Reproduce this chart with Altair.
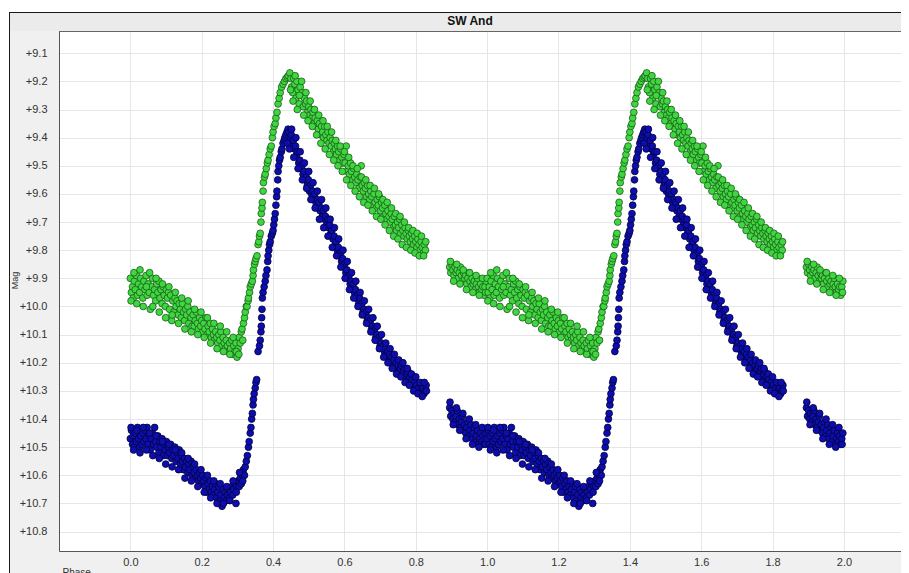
import altair as alt
import pandas as pd

TITLE = "SW And"
X_TICKS = [0.0, 0.2, 0.4, 0.6, 0.8, 1.0, 1.2, 1.4, 1.6, 1.8, 2.0]
Y_TICKS = [9.1, 9.2, 9.3, 9.4, 9.5, 9.6, 9.7, 9.8, 9.9, 10.0,
           10.1, 10.2, 10.3, 10.4, 10.5, 10.6, 10.7, 10.8]

# one cycle of (phase, magnitude); plotted at phase and phase+1
GREEN = [
    (0.000, 9.90), (0.003, 9.95), (0.006, 9.93), (0.008, 9.97), (0.011, 9.91), (0.014, 9.94),
    (0.017, 9.89), (0.020, 9.96), (0.023, 9.92), (0.026, 9.95), (0.029, 9.90), (0.032, 9.93),
    (0.035, 9.97), (0.038, 9.91), (0.041, 9.94), (0.044, 9.89), (0.047, 9.96), (0.050, 9.92),
    (0.053, 9.95), (0.056, 10.01), (0.059, 9.93), (0.062, 9.90), (0.065, 9.96), (0.068, 9.94),
    (0.071, 9.98), (0.074, 9.92), (0.077, 9.95), (0.080, 9.91), (0.083, 9.97), (0.086, 9.94),
    (0.089, 9.99), (0.092, 9.93), (0.095, 9.96), (0.098, 10.00), (0.101, 9.94), (0.104, 9.97),
    (0.107, 9.95), (0.110, 10.01), (0.113, 9.96), (0.116, 10.05), (0.119, 9.98), (0.122, 10.02),
    (0.125, 9.97), (0.128, 10.00), (0.131, 9.98), (0.134, 10.03), (0.137, 9.99), (0.140, 10.01),
    (0.143, 10.04), (0.146, 9.99), (0.149, 10.02), (0.152, 10.05), (0.155, 10.01), (0.158, 10.03),
    (0.161, 10.00), (0.164, 10.06), (0.167, 10.02), (0.170, 10.04), (0.173, 10.07), (0.176, 10.03),
    (0.179, 10.07), (0.182, 10.05), (0.185, 10.02), (0.188, 10.06), (0.191, 10.08), (0.194, 10.04),
    (0.197, 10.07), (0.200, 10.05), (0.203, 10.09), (0.206, 10.06), (0.209, 10.08), (0.212, 10.04),
    (0.215, 10.10), (0.218, 10.07), (0.221, 10.09), (0.224, 10.06), (0.227, 10.11), (0.230, 10.08),
    (0.233, 10.10), (0.236, 10.12), (0.239, 10.09), (0.242, 10.11), (0.245, 10.13), (0.248, 10.10),
    (0.251, 10.12), (0.254, 10.09), (0.257, 10.14), (0.260, 10.11), (0.263, 10.13), (0.266, 10.15),
    (0.269, 10.12), (0.272, 10.14), (0.275, 10.16), (0.278, 10.13), (0.281, 10.15), (0.284, 10.12),
    (0.287, 10.17), (0.290, 10.14), (0.293, 10.16), (0.296, 10.13), (0.299, 10.18), (0.302, 10.15),
    (0.305, 10.11), (0.308, 10.13), (0.311, 10.09), (0.313, 10.08), (0.315, 10.12), (0.317, 10.06),
    (0.320, 10.04), (0.322, 10.02), (0.325, 10.00), (0.327, 10.00), (0.330, 9.98), (0.331, 9.97),
    (0.334, 9.95), (0.336, 9.93), (0.339, 9.92), (0.342, 9.91), (0.344, 9.89), (0.345, 9.87),
    (0.348, 9.85), (0.350, 9.84), (0.352, 9.83), (0.355, 9.82), (0.358, 9.78), (0.360, 9.77),
    (0.362, 9.75), (0.364, 9.74), (0.366, 9.70), (0.367, 9.67), (0.369, 9.65), (0.370, 9.63),
    (0.372, 9.59), (0.373, 9.56), (0.376, 9.54), (0.378, 9.53), (0.381, 9.51), (0.384, 9.49),
    (0.386, 9.48), (0.389, 9.46), (0.392, 9.44), (0.395, 9.43), (0.398, 9.40), (0.400, 9.38),
    (0.403, 9.36), (0.406, 9.35), (0.408, 9.33), (0.411, 9.31), (0.414, 9.28), (0.417, 9.26),
    (0.420, 9.24), (0.424, 9.22), (0.428, 9.21), (0.432, 9.20), (0.436, 9.19), (0.440, 9.185),
    (0.443, 9.18), (0.447, 9.17), (0.450, 9.19), (0.452, 9.22), (0.455, 9.24), (0.458, 9.19),
    (0.461, 9.21), (0.464, 9.26), (0.467, 9.20), (0.470, 9.23), (0.473, 9.28), (0.476, 9.22),
    (0.479, 9.25), (0.482, 9.24), (0.485, 9.29), (0.488, 9.26), (0.491, 9.28), (0.494, 9.27),
    (0.497, 9.31), (0.500, 9.29), (0.503, 9.32), (0.506, 9.30), (0.509, 9.33), (0.512, 9.31),
    (0.515, 9.35), (0.518, 9.33), (0.521, 9.36), (0.524, 9.34), (0.527, 9.37), (0.530, 9.35),
    (0.533, 9.39), (0.536, 9.36), (0.539, 9.38), (0.542, 9.40), (0.545, 9.36), (0.548, 9.39),
    (0.551, 9.41), (0.554, 9.38), (0.557, 9.42), (0.560, 9.40), (0.563, 9.43), (0.566, 9.41),
    (0.569, 9.45), (0.572, 9.42), (0.575, 9.44), (0.578, 9.46), (0.581, 9.43), (0.584, 9.45),
    (0.587, 9.48), (0.590, 9.44), (0.593, 9.47), (0.596, 9.49), (0.599, 9.46), (0.602, 9.49),
    (0.605, 9.43), (0.608, 9.52), (0.611, 9.50), (0.614, 9.53), (0.617, 9.49), (0.620, 9.52),
    (0.623, 9.55), (0.626, 9.51), (0.629, 9.54), (0.632, 9.56), (0.635, 9.53), (0.638, 9.55),
    (0.641, 9.58), (0.644, 9.54), (0.647, 9.50), (0.650, 9.57), (0.653, 9.59), (0.656, 9.56),
    (0.659, 9.58), (0.662, 9.61), (0.665, 9.57), (0.668, 9.60), (0.671, 9.62), (0.674, 9.59),
    (0.677, 9.61), (0.680, 9.64), (0.683, 9.60), (0.686, 9.63), (0.689, 9.65), (0.692, 9.62),
    (0.695, 9.64), (0.698, 9.61), (0.701, 9.66), (0.704, 9.63), (0.707, 9.65), (0.710, 9.68),
    (0.713, 9.64), (0.716, 9.67), (0.719, 9.69), (0.722, 9.66), (0.725, 9.68), (0.728, 9.70),
    (0.731, 9.67), (0.734, 9.69), (0.737, 9.72), (0.740, 9.68), (0.743, 9.71), (0.746, 9.73),
    (0.749, 9.70), (0.752, 9.72), (0.755, 9.69), (0.758, 9.74), (0.761, 9.71), (0.764, 9.73),
    (0.767, 9.75), (0.770, 9.72), (0.773, 9.74), (0.776, 9.76), (0.779, 9.73), (0.782, 9.75),
    (0.785, 9.77), (0.788, 9.74), (0.791, 9.76), (0.794, 9.78), (0.797, 9.75), (0.800, 9.77),
    (0.803, 9.79), (0.806, 9.76), (0.809, 9.78), (0.812, 9.80), (0.815, 9.77), (0.818, 9.79),
    (0.821, 9.81), (0.824, 9.78), (0.827, 9.80),
    (0.895, 9.86), (0.898, 9.88), (0.901, 9.85), (0.904, 9.87), (0.907, 9.89), (0.910, 9.86),
    (0.913, 9.88), (0.916, 9.87), (0.919, 9.90), (0.922, 9.88), (0.925, 9.86), (0.928, 9.89),
    (0.931, 9.91), (0.934, 9.88), (0.937, 9.90), (0.940, 9.89), (0.943, 9.92), (0.946, 9.90),
    (0.949, 9.88), (0.952, 9.91), (0.955, 9.93), (0.958, 9.90), (0.961, 9.92), (0.964, 9.91),
    (0.967, 9.94), (0.970, 9.92), (0.973, 9.90), (0.976, 9.93), (0.979, 9.95), (0.982, 9.92),
    (0.985, 9.94), (0.988, 9.93), (0.991, 9.96), (0.994, 9.93), (0.997, 9.91),
]

# wider-scattered green observations
GREEN_SCATTER = [
    (0.002, 9.98), (0.010, 9.88), (0.018, 9.99), (0.027, 9.87), (0.036, 10.00), (0.045, 9.93),
    (0.054, 9.88), (0.063, 10.00), (0.072, 9.90), (0.081, 10.02), (0.090, 9.92), (0.099, 10.04),
    (0.108, 9.93), (0.117, 10.03), (0.126, 9.95), (0.135, 10.06), (0.144, 9.97), (0.153, 10.08),
    (0.162, 9.98), (0.171, 10.09), (0.180, 10.01), (0.189, 10.10), (0.198, 10.02), (0.207, 10.11),
    (0.216, 10.04), (0.225, 10.13), (0.234, 10.06), (0.243, 10.15), (0.252, 10.07), (0.261, 10.16),
    (0.270, 10.09), (0.279, 10.17), (0.288, 10.11), (0.297, 10.16), (0.304, 10.17),
    (0.449, 9.23), (0.456, 9.27), (0.462, 9.18), (0.468, 9.30), (0.474, 9.25), (0.480, 9.20),
    (0.486, 9.32), (0.492, 9.24), (0.498, 9.34), (0.504, 9.27), (0.510, 9.36), (0.516, 9.30),
    (0.522, 9.39), (0.528, 9.32), (0.534, 9.42), (0.540, 9.34), (0.546, 9.44), (0.552, 9.36),
    (0.558, 9.46), (0.564, 9.38), (0.570, 9.48), (0.576, 9.41), (0.582, 9.50), (0.588, 9.43),
    (0.594, 9.52), (0.600, 9.45), (0.606, 9.55), (0.612, 9.47), (0.618, 9.57), (0.624, 9.50),
    (0.630, 9.59), (0.636, 9.51), (0.642, 9.61), (0.648, 9.54), (0.654, 9.63), (0.660, 9.55),
    (0.666, 9.64), (0.672, 9.57), (0.678, 9.66), (0.684, 9.58), (0.690, 9.68), (0.696, 9.60),
    (0.702, 9.69), (0.708, 9.62), (0.714, 9.71), (0.720, 9.63), (0.726, 9.73), (0.732, 9.65),
    (0.738, 9.75), (0.744, 9.67), (0.750, 9.76), (0.756, 9.68), (0.762, 9.78), (0.768, 9.70),
    (0.774, 9.79), (0.780, 9.72), (0.786, 9.80), (0.792, 9.73), (0.798, 9.81), (0.804, 9.74),
    (0.810, 9.82), (0.816, 9.75), (0.822, 9.82), (0.828, 9.77),
    (0.897, 9.84), (0.906, 9.91), (0.915, 9.85), (0.924, 9.92), (0.933, 9.87), (0.942, 9.94),
    (0.951, 9.88), (0.960, 9.95), (0.969, 9.89), (0.978, 9.96), (0.987, 9.90), (0.996, 9.95),
]

BLUE = [
    (0.000, 10.47), (0.003, 10.44), (0.006, 10.49), (0.008, 10.46), (0.011, 10.50), (0.014, 10.45),
    (0.017, 10.48), (0.020, 10.43), (0.023, 10.47), (0.026, 10.50), (0.029, 10.46), (0.032, 10.49),
    (0.035, 10.45), (0.038, 10.48), (0.041, 10.44), (0.044, 10.47), (0.047, 10.43), (0.050, 10.49),
    (0.053, 10.46), (0.056, 10.51), (0.059, 10.47), (0.062, 10.45), (0.065, 10.49), (0.068, 10.43),
    (0.071, 10.48), (0.074, 10.50), (0.077, 10.46), (0.080, 10.52), (0.083, 10.48), (0.086, 10.50),
    (0.089, 10.47), (0.092, 10.53), (0.095, 10.49), (0.098, 10.51), (0.101, 10.48), (0.104, 10.53),
    (0.107, 10.50), (0.110, 10.52), (0.113, 10.49), (0.116, 10.54), (0.119, 10.51), (0.122, 10.53),
    (0.125, 10.50), (0.128, 10.55), (0.131, 10.52), (0.134, 10.54), (0.137, 10.51), (0.140, 10.56),
    (0.143, 10.53), (0.146, 10.55), (0.149, 10.58), (0.152, 10.54), (0.155, 10.57), (0.158, 10.55),
    (0.161, 10.59), (0.164, 10.56), (0.167, 10.58), (0.170, 10.55), (0.173, 10.60), (0.176, 10.57),
    (0.179, 10.59), (0.182, 10.61), (0.185, 10.58), (0.188, 10.60), (0.191, 10.62), (0.194, 10.59),
    (0.197, 10.61), (0.200, 10.63), (0.203, 10.60), (0.206, 10.62), (0.209, 10.64), (0.212, 10.61),
    (0.215, 10.66), (0.218, 10.63), (0.221, 10.65), (0.224, 10.62), (0.227, 10.66), (0.230, 10.64),
    (0.233, 10.67), (0.236, 10.65), (0.239, 10.63), (0.242, 10.68), (0.245, 10.66), (0.248, 10.64),
    (0.251, 10.69), (0.254, 10.67), (0.257, 10.71), (0.260, 10.65), (0.263, 10.68), (0.266, 10.66),
    (0.269, 10.69), (0.272, 10.67), (0.275, 10.65), (0.278, 10.68), (0.281, 10.66), (0.284, 10.64),
    (0.287, 10.67), (0.290, 10.65), (0.293, 10.63), (0.296, 10.70), (0.299, 10.64), (0.302, 10.62),
    (0.305, 10.64), (0.308, 10.61), (0.311, 10.63), (0.314, 10.60), (0.317, 10.58), (0.320, 10.60),
    (0.322, 10.57), (0.325, 10.55), (0.328, 10.53), (0.331, 10.50), (0.333, 10.48), (0.336, 10.45),
    (0.338, 10.43), (0.340, 10.40), (0.342, 10.38), (0.344, 10.35), (0.345, 10.33), (0.347, 10.31),
    (0.350, 10.29), (0.352, 10.27), (0.354, 10.26),
    (0.358, 10.16), (0.362, 10.14), (0.364, 10.12), (0.366, 10.09), (0.367, 10.07), (0.368, 10.04),
    (0.369, 10.01), (0.370, 9.97), (0.372, 9.95), (0.375, 9.93), (0.378, 9.91), (0.380, 9.89),
    (0.383, 9.87), (0.385, 9.84), (0.386, 9.82), (0.388, 9.80), (0.390, 9.78), (0.392, 9.77),
    (0.395, 9.75), (0.398, 9.74), (0.400, 9.73), (0.402, 9.71), (0.404, 9.69), (0.406, 9.67),
    (0.408, 9.64), (0.410, 9.61), (0.411, 9.59), (0.413, 9.55), (0.414, 9.52), (0.416, 9.50),
    (0.418, 9.48), (0.420, 9.47), (0.423, 9.45), (0.425, 9.44), (0.428, 9.42), (0.431, 9.41),
    (0.433, 9.40), (0.436, 9.39), (0.439, 9.38), (0.442, 9.37),
    (0.445, 9.38), (0.448, 9.40), (0.451, 9.39), (0.454, 9.42), (0.457, 9.41), (0.460, 9.44),
    (0.463, 9.43), (0.466, 9.46), (0.469, 9.45), (0.472, 9.49), (0.475, 9.48), (0.478, 9.51),
    (0.481, 9.50), (0.484, 9.53), (0.487, 9.52), (0.490, 9.55), (0.493, 9.54), (0.496, 9.57),
    (0.499, 9.55), (0.502, 9.59), (0.505, 9.57), (0.508, 9.60), (0.511, 9.59), (0.514, 9.62),
    (0.517, 9.60), (0.520, 9.63), (0.523, 9.62), (0.526, 9.65), (0.529, 9.63), (0.532, 9.66),
    (0.535, 9.65), (0.538, 9.68), (0.541, 9.66), (0.544, 9.69), (0.547, 9.68), (0.550, 9.71),
    (0.553, 9.69), (0.556, 9.72), (0.559, 9.71), (0.562, 9.74), (0.565, 9.73), (0.568, 9.76),
    (0.571, 9.75), (0.574, 9.78), (0.577, 9.77), (0.580, 9.80), (0.583, 9.79), (0.586, 9.82),
    (0.589, 9.81), (0.592, 9.84), (0.595, 9.83), (0.598, 9.86), (0.601, 9.85), (0.604, 9.88),
    (0.607, 9.87), (0.610, 9.90), (0.613, 9.89), (0.616, 9.92), (0.619, 9.91), (0.622, 9.94),
    (0.625, 9.92), (0.628, 9.95), (0.631, 9.94), (0.634, 9.97), (0.637, 9.96), (0.640, 9.99),
    (0.643, 9.97), (0.646, 10.00), (0.649, 9.99), (0.652, 10.02), (0.655, 10.01), (0.658, 10.03),
    (0.661, 10.02), (0.664, 10.05), (0.667, 10.04), (0.670, 10.06), (0.673, 10.05), (0.676, 10.08),
    (0.679, 10.07), (0.682, 10.09), (0.685, 10.08), (0.688, 10.11), (0.691, 10.10), (0.694, 10.12),
    (0.697, 10.11), (0.700, 10.14), (0.703, 10.13), (0.706, 10.15), (0.709, 10.14), (0.712, 10.16),
    (0.715, 10.15), (0.718, 10.17), (0.721, 10.16), (0.724, 10.18), (0.727, 10.17), (0.730, 10.19),
    (0.733, 10.18), (0.736, 10.20), (0.739, 10.19), (0.742, 10.21), (0.745, 10.20), (0.748, 10.22),
    (0.751, 10.21), (0.754, 10.23), (0.757, 10.22), (0.760, 10.21), (0.763, 10.24), (0.766, 10.23),
    (0.769, 10.22), (0.772, 10.25), (0.775, 10.24), (0.778, 10.23), (0.781, 10.26), (0.784, 10.25),
    (0.787, 10.27), (0.790, 10.26), (0.793, 10.28), (0.796, 10.27), (0.799, 10.29), (0.802, 10.28),
    (0.805, 10.30), (0.808, 10.29), (0.811, 10.31), (0.814, 10.28), (0.817, 10.30), (0.820, 10.29),
    (0.823, 10.31), (0.826, 10.30), (0.829, 10.28),
    (0.895, 10.36), (0.898, 10.39), (0.901, 10.37), (0.904, 10.40), (0.907, 10.38), (0.910, 10.41),
    (0.913, 10.39), (0.916, 10.37), (0.919, 10.42), (0.922, 10.40), (0.925, 10.43), (0.928, 10.41),
    (0.931, 10.39), (0.934, 10.44), (0.937, 10.42), (0.940, 10.45), (0.943, 10.43), (0.946, 10.41),
    (0.949, 10.46), (0.952, 10.44), (0.955, 10.42), (0.958, 10.47), (0.961, 10.45), (0.964, 10.43),
    (0.967, 10.48), (0.970, 10.46), (0.973, 10.44), (0.976, 10.49), (0.979, 10.47), (0.982, 10.45),
    (0.985, 10.48), (0.988, 10.46), (0.991, 10.49), (0.994, 10.47), (0.997, 10.45),
]

# wider-scattered blue observations
BLUE_SCATTER = [
    (0.002, 10.43), (0.009, 10.51), (0.018, 10.44), (0.027, 10.52), (0.036, 10.43), (0.045, 10.51),
    (0.054, 10.45), (0.063, 10.53), (0.072, 10.46), (0.081, 10.54), (0.090, 10.48), (0.099, 10.56),
    (0.108, 10.49), (0.117, 10.57), (0.126, 10.51), (0.135, 10.58), (0.144, 10.52), (0.153, 10.61),
    (0.162, 10.54), (0.171, 10.62), (0.180, 10.56), (0.189, 10.64), (0.198, 10.58), (0.207, 10.66),
    (0.216, 10.60), (0.225, 10.68), (0.234, 10.62), (0.243, 10.70), (0.252, 10.63), (0.261, 10.70),
    (0.270, 10.64), (0.279, 10.69), (0.288, 10.62), (0.297, 10.66), (0.306, 10.59), (0.315, 10.62),
    (0.440, 9.42), (0.446, 9.44), (0.452, 9.37), (0.458, 9.47), (0.464, 9.40), (0.470, 9.51),
    (0.476, 9.45), (0.482, 9.55), (0.488, 9.49), (0.494, 9.58), (0.500, 9.52), (0.506, 9.62),
    (0.512, 9.56), (0.518, 9.65), (0.524, 9.59), (0.530, 9.69), (0.536, 9.62), (0.542, 9.72),
    (0.548, 9.65), (0.554, 9.75), (0.560, 9.69), (0.566, 9.79), (0.572, 9.72), (0.578, 9.82),
    (0.584, 9.76), (0.590, 9.86), (0.596, 9.80), (0.602, 9.90), (0.608, 9.84), (0.614, 9.94),
    (0.620, 9.88), (0.626, 9.97), (0.632, 9.91), (0.638, 10.00), (0.644, 9.95), (0.650, 10.03),
    (0.656, 9.98), (0.662, 10.06), (0.668, 10.01), (0.674, 10.09), (0.680, 10.04), (0.686, 10.12),
    (0.692, 10.07), (0.698, 10.15), (0.704, 10.10), (0.710, 10.18), (0.716, 10.13), (0.722, 10.20),
    (0.728, 10.15), (0.734, 10.22), (0.740, 10.17), (0.746, 10.24), (0.752, 10.19), (0.758, 10.25),
    (0.764, 10.20), (0.770, 10.27), (0.776, 10.22), (0.782, 10.28), (0.788, 10.24), (0.794, 10.30),
    (0.800, 10.25), (0.806, 10.31), (0.812, 10.27), (0.818, 10.32), (0.824, 10.27), (0.830, 10.30),
    (0.896, 10.34), (0.905, 10.42), (0.914, 10.36), (0.923, 10.44), (0.932, 10.38), (0.941, 10.47),
    (0.950, 10.40), (0.959, 10.49), (0.968, 10.42), (0.977, 10.50), (0.986, 10.43), (0.995, 10.49),
]


def cycles(points):
    rows = []
    for k in (0, 1):
        for p, m in points:
            rows.append({"phase": round(p + k, 3), "mag": m})
    return pd.DataFrame(rows)


green_df = cycles(GREEN + GREEN_SCATTER)
blue_df = cycles(BLUE + BLUE_SCATTER)
dummy = pd.DataFrame({"a": [0]})

W, H = 842, 520
FONT = "Liberation Sans"

x_scale = alt.Scale(domain=[-0.2, 2.16], nice=False, zero=False)
y_scale = alt.Scale(domain=[9.021, 10.869], reverse=True, nice=False, zero=False)

x_axis = alt.Axis(
    values=X_TICKS, format=".1f", title="Phase", ticks=False, labelPadding=5,
    labelFont=FONT, labelFontSize=11, labelColor="#333333", labelFlush=False,
    domainColor="#555555", gridColor="#e6e6e6",
    titleFont=FONT, titleFontSize=10, titleFontWeight="normal", titleColor="#333333",
    titleX=3, titleY=16, titleAlign="left", titleBaseline="top", titleAngle=0,
)
y_axis = alt.Axis(
    values=Y_TICKS, labelExpr="'+' + format(datum.value, '.1f')", title="Mag",
    ticks=False, labelPadding=12, labelFont=FONT, labelFontSize=11,
    labelColor="#333333", labelFlush=False, domainColor="#555555", gridColor="#e6e6e6",
    titleFont=FONT, titleFontSize=9, titleFontWeight="normal", titleColor="#333333",
    titleX=-45, titleY=249, titleAngle=270, titleAlign="center", titleBaseline="middle",
)

base = alt.Chart(dummy)
white_top = base.mark_rect(color="white").encode(
    x=alt.value(-60), x2=alt.value(900), y=alt.value(-30), y2=alt.value(-19))
white_left = base.mark_rect(color="white").encode(
    x=alt.value(-60), x2=alt.value(-50), y=alt.value(-30), y2=alt.value(600))
title_band = base.mark_rect(color="#ebebeb").encode(
    x=alt.value(-50), x2=alt.value(900), y=alt.value(-19), y2=alt.value(0))
frame_top = base.mark_rule(color="#1a1a1a", strokeWidth=1).encode(
    x=alt.value(-50), x2=alt.value(900), y=alt.value(-18.5), y2=alt.value(-18.5))
frame_left = base.mark_rule(color="#1a1a1a", strokeWidth=1).encode(
    x=alt.value(-49.5), x2=alt.value(-49.5), y=alt.value(-19), y2=alt.value(600))
plot_top = base.mark_rule(color="#666666", strokeWidth=1).encode(
    x=alt.value(0), x2=alt.value(W), y=alt.value(0.5), y2=alt.value(0.5))
title = base.mark_text(text=TITLE, font=FONT, fontSize=12, fontWeight="bold",
                       color="#111111", baseline="middle", align="center").encode(
    x=alt.value(411), y=alt.value(-10))

green = alt.Chart(green_df).mark_circle(
    size=46, opacity=1, fill="#3fd63f", stroke="#1d5a1d", strokeWidth=0.8
).encode(
    x=alt.X("phase:Q", scale=x_scale, axis=x_axis),
    y=alt.Y("mag:Q", scale=y_scale, axis=y_axis),
)
blue = alt.Chart(blue_df).mark_circle(
    size=46, opacity=1, fill="#0e0eb0", stroke="#03033a", strokeWidth=0.8
).encode(
    x=alt.X("phase:Q", scale=x_scale, axis=x_axis),
    y=alt.Y("mag:Q", scale=y_scale, axis=y_axis),
)

chart = alt.layer(
    white_top, white_left, title_band, frame_top, frame_left,
    green, blue, plot_top, title,
).properties(
    width=W, height=H,
    autosize=alt.AutoSizeParams(type="none"),
    padding={"left": 51, "top": 23, "right": 0, "bottom": 22},
    background="#f0f0f0",
).configure_view(fill="white", stroke=None)

chart.save("out.html", embed_options={"renderer": "svg", "actions": False})
